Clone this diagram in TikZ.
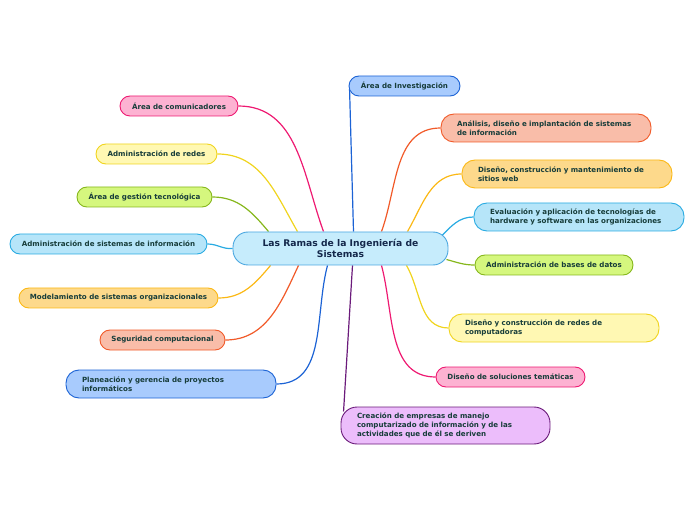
\documentclass[tikz,border=0pt]{standalone}
\usepackage{fontspec}
\setmainfont{DejaVu Sans}
\definecolor{rootfill}{HTML}{C6ECFC}
\definecolor{rootedge}{HTML}{4AA7E0}
\definecolor{roottext}{HTML}{14284B}
\definecolor{leaftext}{HTML}{173D3A}
\definecolor{pinkline}{HTML}{EE1A72}
\definecolor{pinkfill}{HTML}{FDB2D2}
\definecolor{yellowline}{HTML}{F0D41E}
\definecolor{yellowfill}{HTML}{FFF8B3}
\definecolor{greenline}{HTML}{86B71C}
\definecolor{greenfill}{HTML}{D5F77E}
\definecolor{cyanline}{HTML}{29ABE2}
\definecolor{cyanfill}{HTML}{B6E5F9}
\definecolor{amberline}{HTML}{FBB815}
\definecolor{amberfill}{HTML}{FDD98B}
\definecolor{redline}{HTML}{F15A29}
\definecolor{redfill}{HTML}{F9BDA9}
\definecolor{blueline}{HTML}{1C63D5}
\definecolor{bluefill}{HTML}{A8CBFD}
\definecolor{purpleline}{HTML}{6B1B7B}
\definecolor{purplefill}{HTML}{ECBDFB}
\usetikzlibrary{positioning,calc}
\pgfdeclarelayer{background}
\pgfsetlayers{background,main}

\begin{document}
\begin{tikzpicture}[x=1pt,y=1pt,
    topic/.style={draw, line width=0.9pt, rounded corners=10pt, minimum height=20pt,
        inner xsep=8pt, inner ysep=0pt, text=leaftext,
        font=\fontsize{7.1}{8.7}\selectfont\bfseries},
    longtopic/.style={topic, rounded corners=13pt, minimum height=28pt,
        text width=#1, align=left, inner xsep=16pt},
    branch/.style={line width=1.2pt}]
    \useasboundingbox (0,0) rectangle (696,520);

    % Central topic
    \node[draw=rootedge, fill=rootfill, line width=0.9pt, rounded corners=15pt,
        minimum width=215pt, minimum height=33pt, align=center, text=roottext,
        font=\fontsize{9.2}{11}\selectfont\bfseries] (root) at (340.5,271.5)
        {Las Ramas de la Ingeniería de\\Sistemas};

    % Left branches
    \node[topic, draw=pinkline, fill=pinkfill, minimum width=118pt] (comunic) at (179,414)
        {Área de comunicadores};
    \node[topic, draw=yellowline, fill=yellowfill, minimum width=121pt] (redes) at (156.5,366)
        {Administración de redes};
    \node[topic, draw=greenline, fill=greenfill, minimum width=135pt] (gestion) at (144.5,323)
        {Área de gestión tecnológica};
    \node[topic, draw=cyanline, fill=cyanfill, minimum width=197pt] (admsis) at (108.5,276)
        {Administración de sistemas de información};
    \node[topic, draw=amberline, fill=amberfill, minimum width=199pt] (modelo) at (118.5,222)
        {Modelamiento de sistemas organizacionales};
    \node[topic, draw=redline, fill=redfill, minimum width=125pt] (seguridad) at (162.5,180)
        {Seguridad computacional};
    \node[longtopic=178pt, draw=blueline, fill=bluefill] (planea) at (171,136)
        {Planeación y gerencia de proyectos\\informáticos};

    % Right branches
    \node[topic, draw=blueline, fill=bluefill, minimum width=111pt] (investig) at (404.5,434)
        {Área de Investigación};
    \node[longtopic=178pt, draw=redline, fill=redfill] (analisis) at (546,392)
        {Análisis, diseño e implantación de sistemas\\de información};
    \node[longtopic=178pt, draw=amberline, fill=amberfill] (sitios) at (567,346)
        {Diseño, construcción y mantenimiento de\\sitios web};
    \node[longtopic=178pt, draw=cyanline, fill=cyanfill] (evalua) at (579,303)
        {Evaluación y aplicación de tecnologías de\\hardware y software en las organizaciones};
    \node[topic, draw=greenline, fill=greenfill, minimum width=158pt] (bases) at (554,255)
        {Administración de bases de datos};
    \node[longtopic=178pt, draw=yellowline, fill=yellowfill] (redescomp) at (554,192)
        {Diseño y construcción de redes de\\computadoras};
    \node[topic, draw=pinkline, fill=pinkfill, minimum width=149pt] (solucion) at (510.5,143)
        {Diseño de soluciones temáticas};
    \node[longtopic=177pt, draw=purpleline, fill=purplefill, minimum height=37pt,
        rounded corners=16pt] (creacion) at (445.5,94.5)
        {Creación de empresas de manejo\\computarizado de información y de las\\actividades que de él se deriven};

    % Connectors
    \begin{pgfonlayer}{background}
    \draw[branch, pinkline] (comunic.east) to[out=0, in=110] ($(root.north)+(-17,0)$);
    \draw[branch, yellowline] (redes.east) to[out=0, in=120] ($(root.north)+(-43,0)$);
    \draw[branch, greenline] (gestion.east) to[out=0, in=130] ($(root.north)+(-72,0)$);
    \draw[branch, cyanline] (admsis.east) to[out=0, in=185] (root.west);
    \draw[branch, amberline] (modelo.east) to[out=0, in=-130] ($(root.south)+(-70,0)$);
    \draw[branch, redline] (seguridad.east) to[out=0, in=-115] ($(root.south)+(-42,0)$);
    \draw[branch, blueline] (planea.east) to[out=0, in=-105] ($(root.south)+(-13,0)$);
    \draw[branch, blueline] ($(investig.west)+(1,-3)$) -- ($(root.north)+(13,0)$);
    \draw[branch, redline] (analisis.west) to[out=180, in=70] ($(root.north)+(41,0)$);
    \draw[branch, amberline] (sitios.west) to[out=180, in=60] ($(root.north)+(67,0)$);
    \draw[branch, cyanline] (evalua.west) to[out=180, in=45] ($(root.east)+(-7,12.5)$);
    \draw[branch, greenline] (bases.west) to[out=180, in=-15] ($(root.east)+(-2,-11)$);
    \draw[branch, yellowline] (redescomp.west) to[out=180, in=-60] ($(root.south)+(66,0)$);
    \draw[branch, pinkline] (solucion.west) to[out=180, in=-75] ($(root.south)+(41,0)$);
    \draw[branch, purpleline] ($(creacion.west)+(3,14)$) -- ($(root.south)+(12,0)$);
    \end{pgfonlayer}
\end{tikzpicture}
\end{document}
